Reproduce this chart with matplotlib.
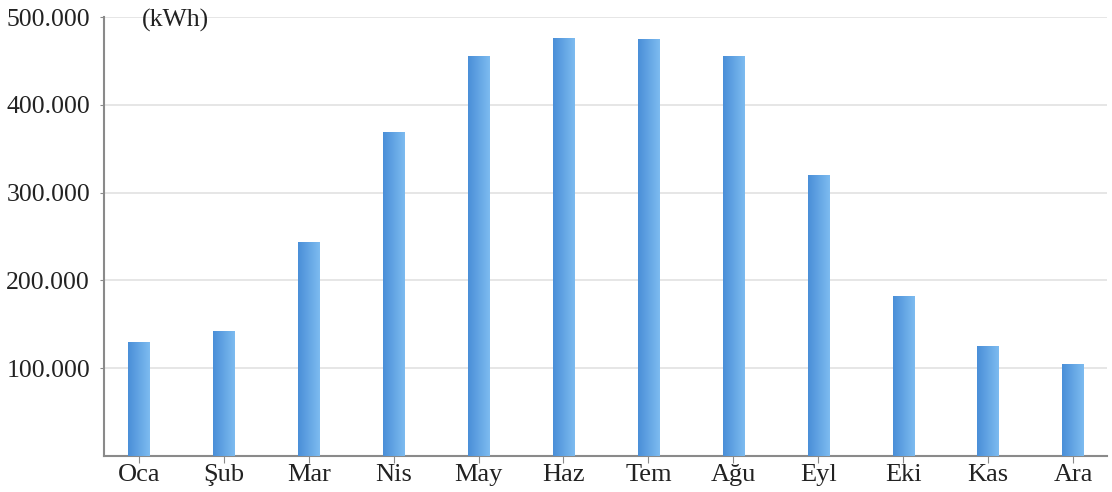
import matplotlib
matplotlib.use("Agg")
import matplotlib.pyplot as plt
import numpy as np
from matplotlib.colors import LinearSegmentedColormap

months = ["Oca", "Şub", "Mar", "Nis", "May", "Haz", "Tem", "Ağu", "Eyl", "Eki", "Kas", "Ara"]
values = [130000, 142000, 244000, 369000, 456000, 476000, 475000, 456000, 320000, 182000, 125000, 105000]
yticks = [100000, 200000, 300000, 400000, 500000]
ytick_labels = ["100.000", "200.000", "300.000", "400.000", "500.000"]
unit_label = "(kWh)"

plt.rcParams['font.family'] = ['Liberation Serif', 'DejaVu Serif']

fig = plt.figure(figsize=(11.12, 4.92), dpi=100)
ax = fig.add_axes([104/1112, 1 - 456/492, 1003/1112, (456-17)/492])

x = np.arange(len(months))
bars = ax.bar(x, values, width=0.25, color="#5a9fe2", zorder=3, linewidth=0)

cmap = LinearSegmentedColormap.from_list("g", ["#4a8fd8", "#7dbbf0"])
grad = np.linspace(0, 1, 64).reshape(1, -1)
for b in bars:
    x0, y0 = b.get_x(), b.get_y()
    w, h = b.get_width(), b.get_height()
    im = ax.imshow(grad, cmap=cmap, extent=[x0, x0 + w, y0, y0 + h], aspect="auto", zorder=4)
    im.set_clip_path(b)

ax.set_xlim(-0.41, 11.4)
ax.set_ylim(0, 500000)
ax.set_xticks(x)
ax.set_xticklabels(months, fontsize=19)
ax.set_yticks(yticks)
ax.set_yticklabels(ytick_labels, fontsize=18.5)
ax.yaxis.grid(True, color="#e2e2e2", linewidth=1.2, zorder=0)
ax.set_axisbelow(True)

for s in ["top", "right"]:
    ax.spines[s].set_visible(False)
for s in ["left", "bottom"]:
    ax.spines[s].set_color("#8a8a8a")
    ax.spines[s].set_linewidth(1.5)
ax.tick_params(axis="x", length=5, color="#8a8a8a", pad=1, labelcolor="#222222")
ax.tick_params(axis="y", length=3, color="#8a8a8a", pad=7, labelcolor="#222222")

ax.text(0.038, 0.993, unit_label, transform=ax.transAxes, fontsize=18.5, va="center", ha="left", color="#222222")

fig.savefig("out.png", dpi=100)
